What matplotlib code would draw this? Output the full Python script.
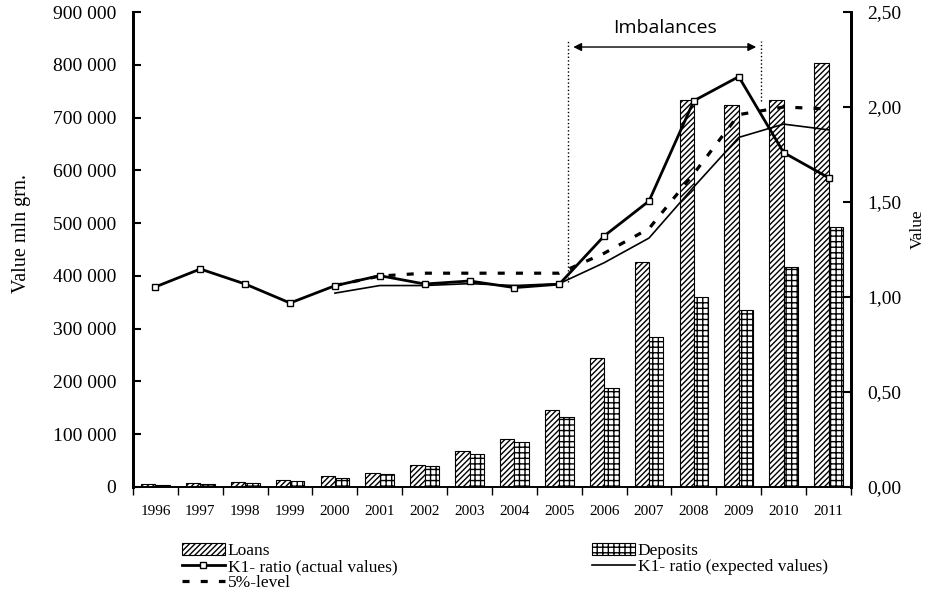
import numpy as np
import matplotlib.pyplot as plt
from matplotlib.ticker import FuncFormatter, FixedLocator

# data
years = ['1996', '1997', '1998', '1999', '2000', '2001', '2002', '2003',
         '2004', '2005', '2006', '2007', '2008', '2009', '2010', '2011']
loans = [5000, 7000, 10000, 12000, 20000, 27000, 42000, 68000,
         90000, 145000, 245000, 427000, 733000, 723000, 733000, 803000]
deposits = [4000, 5000, 7000, 11000, 17000, 24000, 40000, 62000,
            85000, 133000, 187000, 284000, 360000, 335000, 417000, 492000]
k1_actual = [1.053, 1.147, 1.068, 0.968, 1.059, 1.112, 1.068, 1.084,
             1.049, 1.067, 1.321, 1.505, 2.033, 2.160, 1.760, 1.628]
# expected values and 5%-level start in 2000
k1_expected = [None, None, None, None, 1.02, 1.06, 1.06, 1.07,
               1.06, 1.07, 1.18, 1.31, 1.58, 1.84, 1.91, 1.88]
level_5 = [None, None, None, None, 1.06, 1.11, 1.125, 1.125,
           1.125, 1.125, 1.23, 1.36, 1.65, 1.96, 2.00, 1.99]

plt.rcParams['font.family'] = ['Liberation Serif', 'DejaVu Serif']
plt.rcParams['hatch.linewidth'] = 1.0

fig = plt.figure(figsize=(9.3, 6.04), dpi=100)
ax = fig.add_axes([0.143, 0.194, 0.772, 0.786])
ax2 = ax.twinx()

x = np.arange(len(years))
w = 0.32
b1 = ax.bar(x - w / 2, loans, w, color='white', edgecolor='black',
            hatch='//////', linewidth=0.8, label='Loans')
b2 = ax.bar(x + w / 2, deposits, w, color='white', edgecolor='black',
            hatch='+++', linewidth=0.8, label='Deposits')

ax.set_xlim(-0.5, len(years) - 0.5)
ax.set_ylim(0, 900000)
ax.yaxis.set_major_locator(FixedLocator(np.arange(0, 900001, 100000)))
ax.yaxis.set_major_formatter(FuncFormatter(
    lambda v, p: '0' if v == 0 else '{:,.0f}'.format(v).replace(',', ' ')))
ax.set_xticks(x)
ax.set_xticklabels(years, fontsize=11)
ax.set_xticks(np.arange(-0.5, len(years)), minor=True)
ax.tick_params(axis='x', which='major', length=0, pad=13)
ax.tick_params(axis='x', which='minor', length=6, width=1, direction='out')
ax.tick_params(axis='y', direction='in', length=6, width=1.5, labelsize=14, pad=12)
ax.set_ylabel('Value mln grn.', fontsize=14.5)
ax.yaxis.set_label_coords(-0.142, 0.533)

ex = [i for i, v in enumerate(k1_expected) if v is not None]
l1, = ax2.plot(x, k1_actual, color='black', linewidth=2, marker='s',
               markersize=5, markerfacecolor='white', markeredgewidth=1,
               label='K1- ratio (actual values)', zorder=5)
l2, = ax2.plot(ex, [k1_expected[i] for i in ex], color='black', linewidth=1.2,
               label='K1- ratio (expected values)', zorder=4)
l3, = ax2.plot(ex, [level_5[i] for i in ex], color='black', linewidth=2.3,
               dashes=(2.2, 3.5), label='5%-level', zorder=4)

ax2.set_ylim(0, 2.5)
ax2.yaxis.set_major_locator(FixedLocator(np.arange(0, 2.51, 0.5)))
ax2.yaxis.set_major_formatter(FuncFormatter(lambda v, p: '{:.2f}'.format(v).replace('.', ',')))
ax2.tick_params(axis='y', direction='in', length=6, width=1.5, labelsize=14, pad=12)
ax2.set_ylabel('Value', fontsize=12.5)
ax2.yaxis.set_label_coords(1.082, 0.543)

for a in (ax, ax2):
    a.spines['top'].set_visible(False)
    a.spines['left'].set_linewidth(2)
    a.spines['right'].set_linewidth(2)
    a.spines['bottom'].set_linewidth(1.2)

# imbalances bracket
ax2.plot([9.2, 9.2], [1.08, 2.35], color='black', linestyle=':', linewidth=1)
ax2.plot([13.5, 13.5], [2.03, 2.35], color='black', linestyle=':', linewidth=1)
ax2.annotate('', xy=(9.25, 2.316), xytext=(13.45, 2.316),
             arrowprops=dict(arrowstyle='<|-|>', color='black', lw=1,
                             mutation_scale=12))
ax2.text(11.35, 2.415, 'Imbalances', ha='center', va='center', fontsize=14,
         family=['Open Sans', 'DejaVu Sans'])

handles = [b1, l1, l3, b2, l2]
fig.legend(handles=handles, labels=[h.get_label() for h in handles],
           loc='upper left', bbox_to_anchor=(0.188, 0.113), ncol=2,
           frameon=False, fontsize=12.5, handlelength=2.5, handletextpad=0.15,
           labelspacing=0.0, columnspacing=11.2, borderaxespad=0)

fig.savefig('out.png', dpi=100)
